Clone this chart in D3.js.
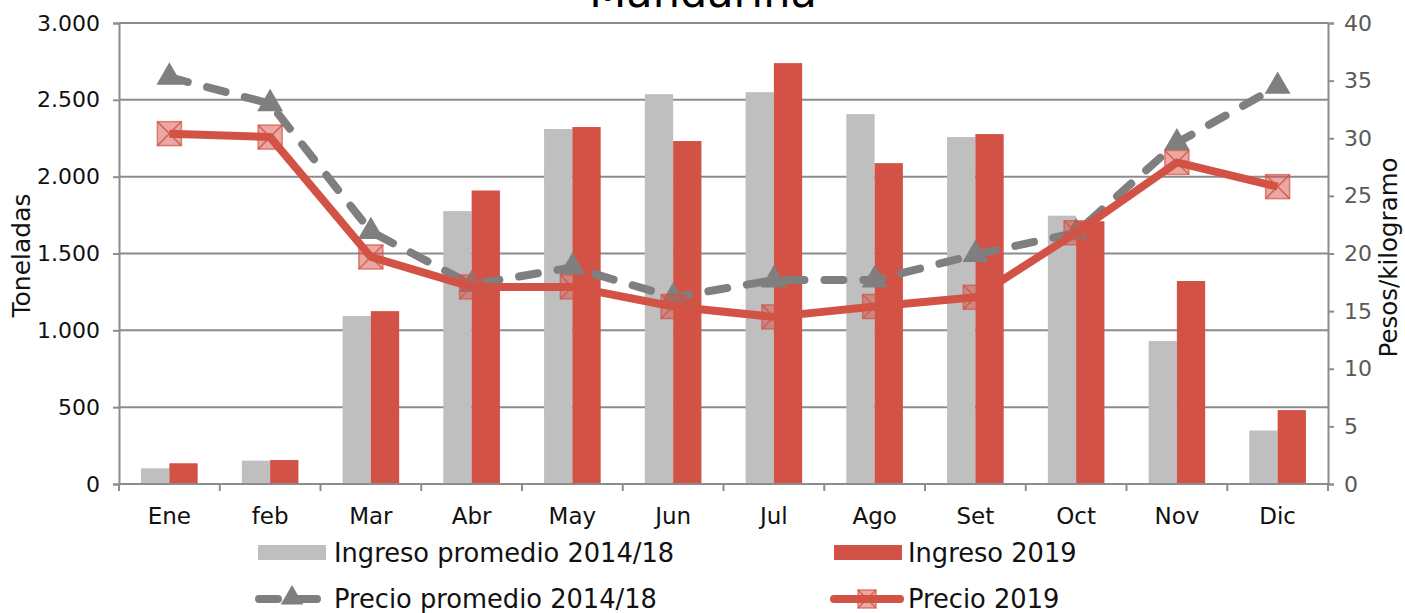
<!DOCTYPE html>
<html>
<head>
<meta charset="utf-8">
<script src="https://cdn.jsdelivr.net/npm/d3@7"></script>
<style>
  html, body { margin: 0; padding: 0; background: #fff; }
  svg { display: block; font-family: "DejaVu Sans", "Open Sans", sans-serif; }
</style>
</head>
<body>
<svg id="chart" width="1405" height="613"></svg>
<script>
// Monthly mandarin arrivals (tonnes) and prices (pesos per kg)
const months = ["Ene", "feb", "Mar", "Abr", "May", "Jun", "Jul", "Ago", "Set", "Oct", "Nov", "Dic"];
const ingresoPromedio = [102, 152, 1093, 1776, 2310, 2537, 2550, 2407, 2258, 1746, 930, 348];
const ingreso2019 = [135, 156, 1125, 1910, 2323, 2232, 2739, 2088, 2277, 1710, 1321, 481];
const precioPromedio = [35.3, 33.0, 21.9, 17.3, 18.8, 16.2, 17.7, 17.7, 19.9, 21.8, 29.6, 34.5];
const precio2019 = [30.4, 30.1, 19.7, 17.1, 17.1, 15.4, 14.5, 15.4, 16.2, 21.8, 27.9, 25.8];
const leftTicks = [0, 500, 1000, 1500, 2000, 2500, 3000];
const rightTicks = [0, 5, 10, 15, 20, 25, 30, 35, 40];

const svg = d3.select("#chart");
const plot = { left: 119, right: 1328, top: 23, bottom: 484 };

const RED = "#d35246";
const GREY_BAR = "#bfbfbf";
const GREY_LINE = "#7f7f7f";
const AXIS = "#8c8c8c";
const INK = "#111";

const x = d3.scaleBand().domain(months).range([plot.left, plot.right]).padding(0);
const xs = d3.scaleBand().domain(["prom", "y2019"]).range([0, x.bandwidth()])
  .paddingInner(0).paddingOuter(0.78);
const yL = d3.scaleLinear().domain([0, 3000]).range([plot.bottom, plot.top]);
const yR = d3.scaleLinear().domain([0, 40]).range([plot.bottom, plot.top]);

const fmtThousands = d3.formatLocale({ decimal: ",", thousands: ".", grouping: [3], currency: ["$", ""] }).format(",");

// Title (sits partly above the visible area)
svg.append("text")
  .attr("x", 703)
  .attr("y", 7)
  .attr("text-anchor", "middle")
  .attr("font-size", 43)
  .attr("fill", "#000")
  .text("Mandarina");

// Horizontal gridlines from the left axis
svg.append("g")
  .selectAll("line")
  .data(leftTicks.slice(1))
  .join("line")
  .attr("x1", plot.left).attr("x2", plot.right)
  .attr("y1", d => yL(d)).attr("y2", d => yL(d))
  .attr("stroke", AXIS).attr("stroke-width", 2);

// Bars
const groups = svg.append("g")
  .selectAll("g")
  .data(months)
  .join("g")
  .attr("transform", d => `translate(${x(d)},0)`);

groups.append("rect")
  .attr("x", xs("prom"))
  .attr("width", xs.bandwidth())
  .attr("y", (d, i) => yL(ingresoPromedio[i]))
  .attr("height", (d, i) => yL(0) - yL(ingresoPromedio[i]))
  .attr("fill", GREY_BAR);

groups.append("rect")
  .attr("x", xs("y2019"))
  .attr("width", xs.bandwidth())
  .attr("y", (d, i) => yL(ingreso2019[i]))
  .attr("height", (d, i) => yL(0) - yL(ingreso2019[i]))
  .attr("fill", RED);

// Left axis
const leftAxis = svg.append("g")
  .attr("transform", `translate(${plot.left},0)`)
  .call(d3.axisLeft(yL).tickValues(leftTicks).tickFormat(fmtThousands).tickSize(6).tickPadding(13));
leftAxis.select(".domain").attr("stroke", AXIS).attr("stroke-width", 2);
leftAxis.selectAll(".tick line").attr("stroke", AXIS).attr("stroke-width", 2);
leftAxis.selectAll(".tick text").attr("font-size", 22).attr("fill", INK)
  .attr("font-family", "'DejaVu Sans', sans-serif");

// Right axis
const rightAxis = svg.append("g")
  .attr("transform", `translate(${plot.right},0)`)
  .call(d3.axisRight(yR).tickValues(rightTicks).tickSize(6).tickPadding(10));
rightAxis.select(".domain").attr("stroke", AXIS).attr("stroke-width", 2);
rightAxis.selectAll(".tick line").attr("stroke", AXIS).attr("stroke-width", 2);
rightAxis.selectAll(".tick text").attr("font-size", 22).attr("fill", "#595959")
  .attr("font-family", "'DejaVu Sans', sans-serif");

// Bottom axis with ticks at category boundaries
const bottom = svg.append("g").attr("transform", `translate(0,${plot.bottom})`);
bottom.append("line")
  .attr("x1", plot.left).attr("x2", plot.right)
  .attr("stroke", AXIS).attr("stroke-width", 2);
bottom.selectAll("line.tick")
  .data(months.concat(["end"]))
  .join("line")
  .attr("class", "tick")
  .attr("x1", (d, i) => i < months.length ? x(d) : plot.right)
  .attr("x2", (d, i) => i < months.length ? x(d) : plot.right)
  .attr("y1", 0).attr("y2", 7)
  .attr("stroke", AXIS).attr("stroke-width", 2);
bottom.selectAll("text")
  .data(months)
  .join("text")
  .attr("x", d => x(d) + x.bandwidth() / 2)
  .attr("y", 40)
  .attr("text-anchor", "middle")
  .attr("font-size", 23)
  .attr("fill", INK)
  .text(d => d);

// Axis titles
svg.append("text")
  .attr("transform", `translate(30,${(plot.top + plot.bottom) / 2 + 2}) rotate(-90)`)
  .attr("text-anchor", "middle")
  .attr("font-size", 25)
  .attr("fill", INK)
  .text("Toneladas");

svg.append("text")
  .attr("transform", `translate(1397,${(plot.top + plot.bottom) / 2 + 4}) rotate(-90)`)
  .attr("text-anchor", "middle")
  .attr("font-size", 24.5)
  .attr("fill", INK)
  .text("Pesos/kilogramo");

// Price lines
const cx = m => x(m) + x.bandwidth() / 2;
const line = d3.line().x(d => cx(d.m)).y(d => yR(d.v));

const promData = months.map((m, i) => ({ m, v: precioPromedio[i] }));
const y19Data = months.map((m, i) => ({ m, v: precio2019[i] }));

svg.append("path")
  .datum(promData)
  .attr("d", line)
  .attr("fill", "none")
  .attr("stroke", GREY_LINE)
  .attr("stroke-width", 8)
  .attr("stroke-linecap", "round")
  .attr("stroke-linejoin", "round")
  .attr("stroke-dasharray", "19 20");

const tri = d3.symbol().type(d3.symbolTriangle).size(290);
svg.append("g")
  .selectAll("path")
  .data(promData)
  .join("path")
  .attr("transform", d => `translate(${cx(d.m)},${yR(d.v)})`)
  .attr("d", tri)
  .attr("fill", GREY_LINE);

svg.append("path")
  .datum(y19Data)
  .attr("d", line)
  .attr("fill", "none")
  .attr("stroke", RED)
  .attr("stroke-width", 8)
  .attr("stroke-linejoin", "round");

function drawSquareMarker(sel, half) {
  sel.append("rect")
    .attr("x", -half).attr("y", -half)
    .attr("width", half * 2).attr("height", half * 2)
    .attr("fill", RED).attr("fill-opacity", 0.5)
    .attr("stroke", RED).attr("stroke-opacity", 0.7).attr("stroke-width", 1.5);
  sel.append("path")
    .attr("d", `M${-half},${-half}L${half},${half}M${half},${-half}L${-half},${half}`)
    .attr("stroke", RED).attr("stroke-opacity", 0.8).attr("stroke-width", 1.5);
}

svg.append("g")
  .selectAll("g")
  .data(y19Data)
  .join("g")
  .attr("transform", d => `translate(${cx(d.m)},${yR(d.v)})`)
  .call(drawSquareMarker, 12);

// Legend
const legend = svg.append("g").attr("font-size", 25.7).attr("fill", INK);

legend.append("rect").attr("x", 258).attr("y", 545).attr("width", 68).attr("height", 15).attr("fill", GREY_BAR);
legend.append("text").attr("x", 334).attr("y", 562).text("Ingreso promedio 2014/18");

legend.append("rect").attr("x", 834).attr("y", 545).attr("width", 68).attr("height", 15).attr("fill", RED);
legend.append("text").attr("x", 908).attr("y", 562).text("Ingreso 2019");

legend.append("line")
  .attr("x1", 259).attr("x2", 322).attr("y1", 599).attr("y2", 599)
  .attr("stroke", GREY_LINE).attr("stroke-width", 8).attr("stroke-linecap", "round")
  .attr("stroke-dasharray", "19 20");
legend.append("path")
  .attr("transform", "translate(292,598)")
  .attr("d", d3.symbol().type(d3.symbolTriangle).size(220))
  .attr("fill", GREY_LINE);
legend.append("text").attr("x", 334).attr("y", 608).text("Precio promedio 2014/18");

legend.append("line")
  .attr("x1", 834).attr("x2", 900).attr("y1", 599).attr("y2", 599)
  .attr("stroke", RED).attr("stroke-width", 8).attr("stroke-linecap", "round");
legend.append("g").attr("transform", "translate(867,599)").call(drawSquareMarker, 9);
legend.append("text").attr("x", 908).attr("y", 608).text("Precio 2019");
</script>
</body>
</html>
